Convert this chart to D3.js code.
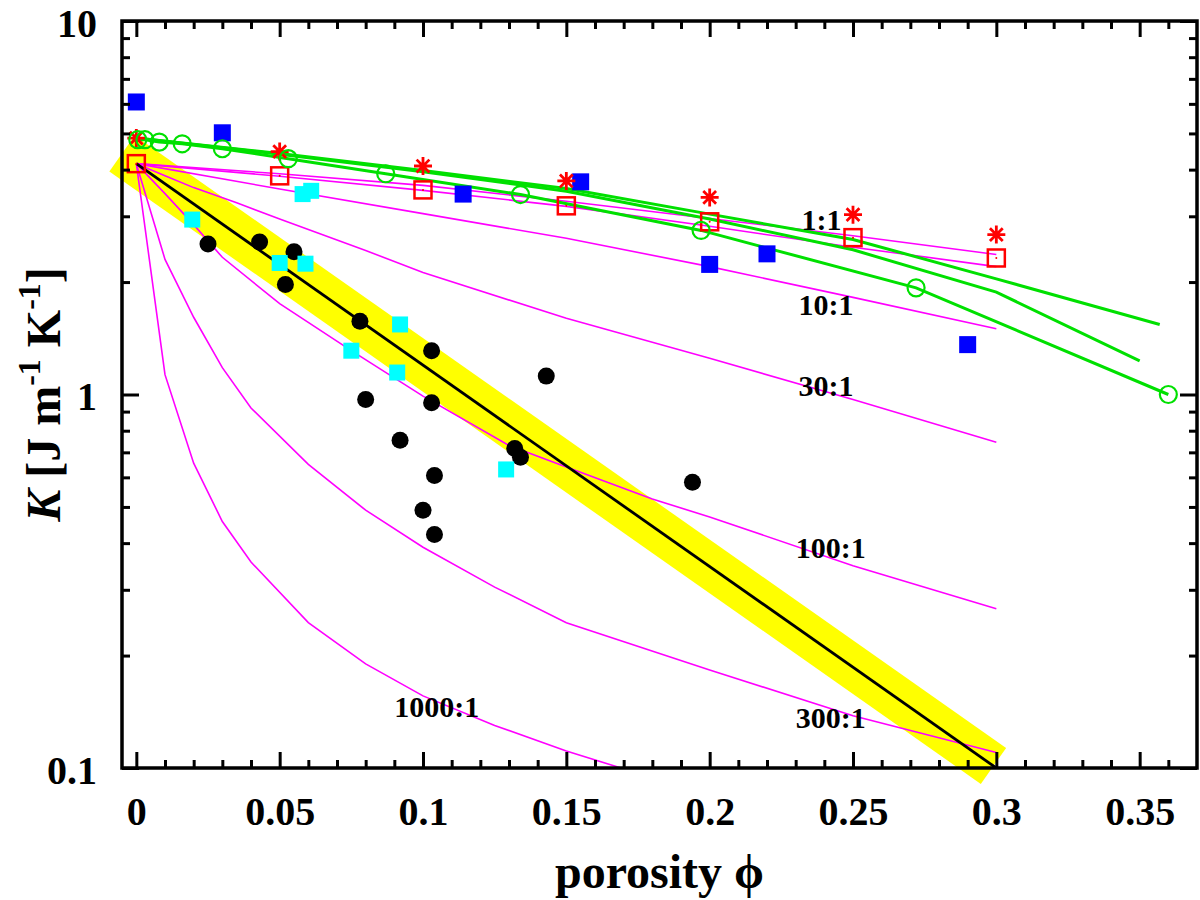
<!DOCTYPE html>
<html lang="en">
<head>
<meta charset="utf-8">
<title>K vs porosity</title>
<script src="https://d3js.org/d3.v7.min.js"></script>
<style>
    body { margin: 0; background: #fff; }
    .magenta { fill: none; stroke: #ff00ff; stroke-width: 1.6; }
    .green { fill: none; stroke: #00e000; stroke-width: 3; }
    .ratio { font-family: "Liberation Serif", "Times New Roman", serif; font-weight: bold; font-size: 30px; fill: #000; }
    .title { font-family: "Liberation Serif", "Times New Roman", serif; font-weight: bold; font-size: 48px; fill: #000; }
</style>
</head>
<body>
<div id="container"></div>
<script>
    const w = 1200;
    const h = 900;
    const plotLeft = 122, plotRight = 1197, plotTop = 21, plotBottom = 768;

    // ticks
    const xTicks = [0, 0.05, 0.1, 0.15, 0.2, 0.25, 0.3, 0.35];
    const xTickLabels = ["0", "0.05", "0.1", "0.15", "0.2", "0.25", "0.3", "0.35"];
    const xMinor = [0.01, 0.02, 0.03, 0.04, 0.06, 0.07, 0.08, 0.09, 0.11, 0.12, 0.13, 0.14, 0.16, 0.17, 0.18, 0.19,
        0.21, 0.22, 0.23, 0.24, 0.26, 0.27, 0.28, 0.29, 0.31, 0.32, 0.33, 0.34, 0.36];
    const yTicks = [0.1, 1, 10];
    const yTickLabels = ["0.1", "1", "10"];
    const yMinor = [0.2, 0.3, 0.4, 0.5, 0.6, 0.7, 0.8, 0.9, 2, 3, 4, 5, 6, 7, 8, 9];

    // measurements
    const blackPhi = [0.025, 0.043, 0.055, 0.052, 0.078, 0.103, 0.143, 0.080, 0.103, 0.092, 0.132, 0.134, 0.104, 0.100, 0.104, 0.194];
    const blackK = [2.53, 2.56, 2.41, 1.97, 1.57, 1.31, 1.12, 0.97, 0.95, 0.754, 0.717, 0.679, 0.607, 0.49, 0.422, 0.582];
    const cyanPhi = [0.0195, 0.050, 0.059, 0.058, 0.061, 0.092, 0.075, 0.091, 0.129];
    const cyanK = [2.94, 2.25, 2.24, 3.44, 3.51, 1.54, 1.31, 1.145, 0.63];
    const bluePhi = [0, 0.030, 0.114, 0.155, 0.200, 0.220, 0.290];
    const blueK = [6.07, 5.02, 3.44, 3.71, 2.23, 2.38, 1.36];
    const starPhi = [0, 0.05, 0.10, 0.15, 0.20, 0.25, 0.30];
    const starK = [4.86, 4.47, 4.09, 3.73, 3.37, 3.03, 2.68];
    const redSqPhi = [0, 0.05, 0.10, 0.15, 0.20, 0.25, 0.30];
    const redSqK = [4.15, 3.85, 3.53, 3.20, 2.90, 2.63, 2.32];

    // green model curves
    const circPhi = [0.0005, 0.003, 0.008, 0.016, 0.030, 0.053, 0.087, 0.134, 0.197, 0.272, 0.360];
    const circK = [4.81, 4.81, 4.74, 4.69, 4.55, 4.28, 3.90, 3.43, 2.75, 1.93, 1.0];
    const greenA = [[0, 4.86], [0.05, 4.42], [0.1, 3.98], [0.15, 3.56], [0.2, 3.04], [0.25, 2.6], [0.3, 2.04], [0.357, 1.54]];
    const greenB = [[0, 4.86], [0.05, 4.4], [0.1, 3.95], [0.15, 3.5], [0.2, 2.95], [0.25, 2.44], [0.3, 1.88], [0.35, 1.23]];

    // magenta aspect-ratio curves
    const m1 = [[0, 4.15], [0.05, 3.9], [0.1, 3.63], [0.15, 3.29], [0.2, 2.96], [0.25, 2.66], [0.3, 2.37]];
    const m3 = [[0, 4.15], [0.05, 3.84], [0.1, 3.52], [0.15, 3.19], [0.2, 2.82], [0.25, 2.48], [0.3, 2.2]];
    const m10 = [[0, 4.15], [0.05, 3.55], [0.1, 3.05], [0.15, 2.62], [0.2, 2.2], [0.25, 1.82], [0.3, 1.5]];
    const m30 = [[0, 4.15], [0.01, 3.85], [0.02, 3.58], [0.035, 3.26], [0.05, 2.95], [0.08, 2.43], [0.1, 2.12],
        [0.15, 1.6], [0.2, 1.25], [0.25, 0.97], [0.3, 0.745]];
    const m100 = [[0, 4.15], [0.01, 3.45], [0.02, 2.85], [0.03, 2.33], [0.05, 1.75], [0.075, 1.31], [0.1, 0.99],
        [0.13, 0.73], [0.15, 0.64], [0.18, 0.525], [0.2, 0.47], [0.25, 0.348], [0.3, 0.267]];
    const m300 = [[0, 4.15], [0.01, 2.30], [0.02, 1.61], [0.03, 1.18], [0.04, 0.92], [0.06, 0.65], [0.08, 0.49],
        [0.10, 0.39], [0.125, 0.305], [0.15, 0.245], [0.2, 0.183], [0.25, 0.138], [0.3, 0.11]];
    const m1000 = [[0, 4.15], [0.01, 1.13], [0.02, 0.655], [0.03, 0.457], [0.04, 0.356], [0.06, 0.245], [0.08, 0.19],
        [0.10, 0.156], [0.125, 0.13], [0.15, 0.111], [0.17, 0.0995], [0.19, 0.09]];

    const ratioLabels = ["1:1", "10:1", "30:1", "100:1", "300:1", "1000:1"];
    const ratioPhi = [0.232, 0.231, 0.231, 0.230, 0.230, 0.090];
    const ratioK = [2.75, 1.63, 0.99, 0.364, 0.128, 0.137];

    // fitted trend and its band
    const trendLine = [[0, 4.15], [0.3, 0.1]];
    const trendBand = [[-0.005, 4.42], [0.299, 0.1013]];

    const svg = d3.select("div#container").append("svg")
        .attr("width", w).attr("height", h)
        .style("background-color", "#fff");

    const x = d3.scaleLinear().domain([-0.005, 0.37]).range([plotLeft, plotRight]);
    const y = d3.scaleLog().domain([0.1, 10]).range([plotBottom, plotTop]);
    const line = d3.line().x(d => x(d[0])).y(d => y(d[1]));

    svg.append("clipPath").attr("id", "plot")
        .append("rect").attr("x", plotLeft).attr("y", plotTop)
        .attr("width", plotRight - plotLeft).attr("height", plotBottom - plotTop);

    // yellow band
    svg.append("path").datum(trendBand)
        .attr("d", line)
        .attr("fill", "none")
        .attr("stroke", "#ffff00")
        .attr("stroke-width", 44);

    // magenta curves
    const curves = svg.append("g").attr("clip-path", "url(#plot)");
    curves.selectAll("path.magenta")
        .data([m1, m3, m10, m30, m100, m300, m1000])
        .enter()
        .append("path")
        .attr("class", "magenta")
        .attr("d", line);

    // black trend
    curves.append("path").datum(trendLine)
        .attr("d", line)
        .attr("fill", "none")
        .attr("stroke", "#000")
        .attr("stroke-width", 2.8);

    // green curves
    curves.selectAll("path.green")
        .data([greenA, greenB, d3.zip(circPhi, circK)])
        .enter()
        .append("path")
        .attr("class", "green")
        .attr("d", line);

    // ratio labels
    svg.selectAll("text.ratio")
        .data(ratioLabels)
        .enter()
        .append("text")
        .attr("class", "ratio")
        .attr("x", (d, i) => x(ratioPhi[i]))
        .attr("y", (d, i) => y(ratioK[i]))
        .text(d => d);

    // black circles
    svg.selectAll("circle.black")
        .data(d3.zip(blackPhi, blackK))
        .enter()
        .append("circle")
        .attr("cx", d => x(d[0])).attr("cy", d => y(d[1]))
        .attr("r", 8.5)
        .attr("fill", "#000");

    // cyan squares
    svg.selectAll("rect.cyan")
        .data(d3.zip(cyanPhi, cyanK))
        .enter()
        .append("rect")
        .attr("x", d => x(d[0]) - 8).attr("y", d => y(d[1]) - 8)
        .attr("width", 16).attr("height", 16)
        .attr("fill", "#00ffff");

    // blue squares
    svg.selectAll("rect.blue")
        .data(d3.zip(bluePhi, blueK))
        .enter()
        .append("rect")
        .attr("x", d => x(d[0]) - 8.5).attr("y", d => y(d[1]) - 8.5)
        .attr("width", 17).attr("height", 17)
        .attr("fill", "#0000ff");

    // red open squares
    const sq = svg.selectAll("g.redsq")
        .data(d3.zip(redSqPhi, redSqK))
        .enter()
        .append("g")
        .attr("transform", d => "translate(" + x(d[0]) + "," + y(d[1]) + ")");
    sq.append("rect")
        .attr("x", -8.5).attr("y", -8.5).attr("width", 17).attr("height", 17)
        .attr("fill", "none").attr("stroke", "#ff0000").attr("stroke-width", 2.5);
    sq.append("circle").attr("r", 1).attr("fill", "#ff0000");

    // red asterisks
    svg.selectAll("path.star")
        .data(d3.zip(starPhi, starK))
        .enter()
        .append("path")
        .attr("transform", d => "translate(" + x(d[0]) + "," + y(d[1]) + ")")
        .attr("d", "M-9,0H9M0,-9V9M-6.4,-6.4L6.4,6.4M-6.4,6.4L6.4,-6.4")
        .attr("stroke", "#ff0000")
        .attr("stroke-width", 2.8)
        .attr("fill", "none");

    // green open circles
    svg.selectAll("circle.gc")
        .data(d3.zip(circPhi, circK))
        .enter()
        .append("circle")
        .attr("cx", d => x(d[0])).attr("cy", d => y(d[1]))
        .attr("r", 8.5)
        .attr("fill", "none")
        .attr("stroke", "#00e000")
        .attr("stroke-width", 2.2);

    // axes
    function styleAxis(g) {
        g.select(".domain").remove();
        g.selectAll(".tick line").attr("stroke", "#000").attr("stroke-width", 3);
        g.attr("font-family", "'Liberation Serif', 'Times New Roman', serif")
            .attr("font-size", 40)
            .attr("font-weight", "bold");
    }

    svg.append("g").attr("transform", "translate(0," + plotBottom + ")")
        .call(d3.axisBottom(x).tickValues(xTicks).tickSize(-16).tickPadding(29).tickFormat((d, i) => xTickLabels[i]))
        .call(styleAxis);
    svg.append("g").attr("transform", "translate(0," + plotBottom + ")")
        .call(d3.axisBottom(x).tickValues(xMinor).tickSize(-8).tickFormat(""))
        .call(styleAxis);
    svg.append("g").attr("transform", "translate(0," + plotTop + ")")
        .call(d3.axisTop(x).tickValues(xTicks).tickSize(-16).tickFormat(""))
        .call(styleAxis);
    svg.append("g").attr("transform", "translate(0," + plotTop + ")")
        .call(d3.axisTop(x).tickValues(xMinor).tickSize(-8).tickFormat(""))
        .call(styleAxis);

    svg.append("g").attr("transform", "translate(" + plotLeft + ",0)")
        .call(d3.axisLeft(y).tickValues(yTicks).tickSize(-17).tickPadding(25).tickFormat((d, i) => yTickLabels[i]))
        .call(styleAxis)
        .call(g => g.selectAll(".tick text").attr("dy", "0.38em"));
    svg.append("g").attr("transform", "translate(" + plotLeft + ",0)")
        .call(d3.axisLeft(y).tickValues(yMinor).tickSize(-8).tickFormat(""))
        .call(styleAxis);
    svg.append("g").attr("transform", "translate(" + plotRight + ",0)")
        .call(d3.axisRight(y).tickValues(yTicks).tickSize(-17).tickFormat(""))
        .call(styleAxis);
    svg.append("g").attr("transform", "translate(" + plotRight + ",0)")
        .call(d3.axisRight(y).tickValues(yMinor).tickSize(-8).tickFormat(""))
        .call(styleAxis);

    svg.append("rect")
        .attr("x", plotLeft).attr("y", plotTop)
        .attr("width", plotRight - plotLeft).attr("height", plotBottom - plotTop)
        .attr("fill", "none").attr("stroke", "#000").attr("stroke-width", 3.5);

    // axis titles
    svg.append("text")
        .attr("class", "title")
        .attr("x", (plotLeft + plotRight) / 2).attr("y", 888)
        .attr("text-anchor", "middle")
        .text("porosity \u03D5");

    const yt = svg.append("text")
        .attr("class", "title")
        .attr("text-anchor", "middle")
        .attr("transform", "translate(60," + ((plotTop + plotBottom) / 2) + ") rotate(-90)");
    yt.append("tspan").attr("font-style", "italic").text("K");
    yt.append("tspan").text(" [J m");
    yt.append("tspan").attr("font-size", 32).attr("dy", -20).text("-1");
    yt.append("tspan").attr("dy", 20).text(" K");
    yt.append("tspan").attr("font-size", 32).attr("dy", -20).text("-1");
    yt.append("tspan").attr("dy", 20).text("]");
</script>
</body>
</html>
